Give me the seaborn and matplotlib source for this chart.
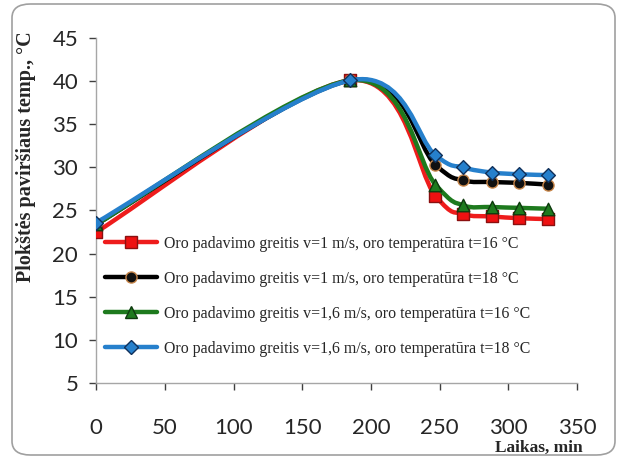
import numpy as np
import pandas as pd
import matplotlib
matplotlib.use("Agg")
import matplotlib.pyplot as plt
from matplotlib.path import Path
from matplotlib.patches import PathPatch, FancyBboxPatch
from matplotlib.lines import Line2D
import seaborn as sns

# Time, min
time_min = [0, 185, 247, 267, 288, 308, 329]

# Plate surface temperature, °C
temp_v1_t16 = [22.5, 40.1, 26.7, 24.6, 24.3, 24.1, 24.0]
temp_v1_t18 = [23.4, 40.1, 30.3, 28.5, 28.3, 28.2, 28.0]
temp_v16_t16 = [23.4, 40.1, 28.0, 25.6, 25.4, 25.3, 25.2]
temp_v16_t18 = [23.6, 40.1, 31.4, 30.0, 29.4, 29.2, 29.1]

series_labels = [
    "Oro padavimo greitis v=1 m/s, oro temperatūra t=16 °C",
    "Oro padavimo greitis v=1 m/s, oro temperatūra t=18 °C",
    "Oro padavimo greitis v=1,6 m/s, oro temperatūra t=16 °C",
    "Oro padavimo greitis v=1,6 m/s, oro temperatūra t=18 °C",
]
x_ticks = [0, 50, 100, 150, 200, 250, 300, 350]
y_ticks = [5, 10, 15, 20, 25, 30, 35, 40, 45]

styles = [
    dict(color="#EE1C1C", marker="s", mfc="#EE1111", mec="#8B1010", ms=9),
    dict(color="#000000", marker="o", mfc="#111111", mec="#C8864A", ms=8),
    dict(color="#1E7A1E", marker="^", mfc="#1E7A1E", mec="#0E3A0E", ms=9),
    dict(color="#2680CC", marker="D", mfc="#2680CC", mec="#10305A", ms=7),
]

sns.set_theme(style="white")
plt.rcParams["font.family"] = ["Lato", "DejaVu Sans"]

fig = plt.figure(figsize=(6.17, 4.59), dpi=100)
ax = fig.add_axes([0.156, 0.166, 0.779, 0.751])

# rounded chart-area border
border = FancyBboxPatch((12 / 617, 4 / 459), 603 / 617, 451 / 459,
                        boxstyle="round,pad=0,rounding_size=0.03",
                        transform=fig.transFigure, fill=False,
                        ec="#A0A0A0", lw=1.2, zorder=0)
fig.patches.append(border)


def smooth_path(xs, ys, k=1 / 6):
    pts = np.column_stack([xs, ys]).astype(float)
    n = len(pts)
    verts = [pts[0]]
    codes = [Path.MOVETO]
    for i in range(n - 1):
        p_prev = pts[i - 1] if i > 0 else pts[i]
        p0, p1 = pts[i], pts[i + 1]
        p_next = pts[i + 2] if i + 2 < n else pts[i + 1]
        c1 = p0 + (p1 - p_prev) * k
        c2 = p1 - (p_next - p0) * k
        verts += [c1, c2, p1]
        codes += [Path.CURVE4] * 3
    return Path(verts, codes)


data = pd.DataFrame({
    "time": time_min * 4,
    "temp": temp_v1_t16 + temp_v1_t18 + temp_v16_t16 + temp_v16_t18,
    "series": sum([[lab] * len(time_min) for lab in series_labels], []),
})

handles = []
for i, (lab, st) in enumerate(zip(series_labels, styles)):
    sub = data[data["series"] == lab]
    ax.add_patch(PathPatch(smooth_path(sub["time"], sub["temp"]), fill=False,
                           ec=st["color"], lw=3.2, zorder=2 + i * 2,
                           capstyle="round", joinstyle="round"))
    sns.scatterplot(data=sub, x="time", y="temp", ax=ax, marker=st["marker"],
                    color=st["mfc"], edgecolor=st["mec"], linewidth=1.0,
                    s=st["ms"] ** 2, zorder=3 + i * 2, legend=False)
    handles.append(Line2D([0], [0], color=st["color"], lw=3.2,
                          marker=st["marker"], markersize=st["ms"],
                          markerfacecolor=st["mfc"], markeredgecolor=st["mec"]))

ax.set_xlim(0, 350)
ax.set_ylim(5, 45)
ax.set_xticks(x_ticks)
ax.set_yticks(y_ticks)
ax.tick_params(axis="both", labelsize=16, colors="#404040", length=5,
               width=1, direction="out", left=True, bottom=True, pad=8)
ax.tick_params(axis="x", pad=20)
for t in ax.get_xticklabels() + ax.get_yticklabels():
    t.set_color("#262626")
for side in ("top", "right"):
    ax.spines[side].set_visible(False)
for side in ("left", "bottom"):
    ax.spines[side].set_color("#A6A6A6")
    ax.spines[side].set_linewidth(1)
ax.set_xlabel("")
ax.set_ylabel("")

fig.text(26 / 617, 1 - 157 / 459, "Plokštės paviršiaus temp., °C",
         rotation=90, ha="center", va="center", fontsize=14.5,
         fontweight="bold", family=["Liberation Serif", "DejaVu Serif"])
fig.text(539 / 617, 1 - 448 / 459, "Laikas, min", ha="center", va="center",
         fontsize=12.5, fontweight="bold",
         family=["Liberation Serif", "DejaVu Serif"])

leg = ax.legend(handles, series_labels, loc="upper left",
                bbox_to_anchor=(0.005, 0.445), frameon=False,
                prop=dict(family=["Liberation Serif", "DejaVu Serif"], size=11.4),
                handlelength=3.3, handletextpad=0.4, labelspacing=1.2,
                borderaxespad=0)
leg.set_zorder(20)

fig.savefig("out.png", dpi=100)
